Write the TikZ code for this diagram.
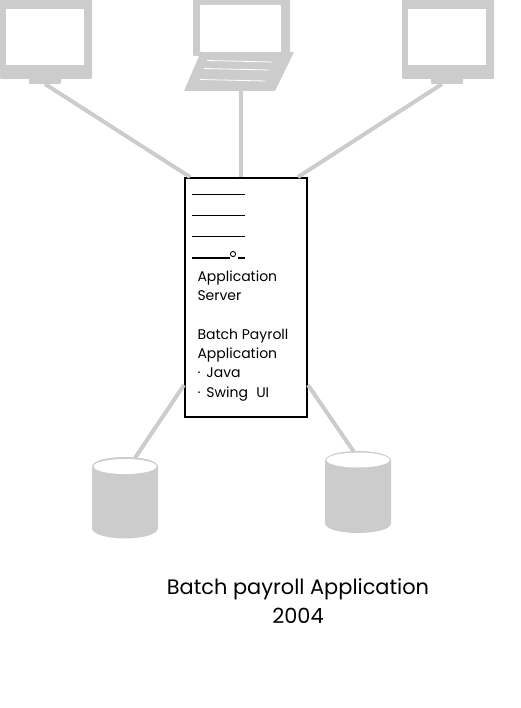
\documentclass[tikz,border=0pt]{standalone}
\usepackage{fontspec}
\setmainfont{Poppins}
\definecolor{sk}{HTML}{CCCCCC}
\tikzset{
  x=1pt,y=-1pt,
  solidbox/.style={fill=sk,draw=none,inner sep=0pt,outer sep=0pt,rounded corners=1pt},
  hole/.style={fill=white,draw=none,inner sep=0pt,outer sep=0pt},
  link/.style={draw=sk,line width=4pt},
  rule/.style={draw=black,line width=1.2pt},
  keyline/.style={draw=white,line width=.8pt},
  serverbox/.style={draw=black,line width=2pt,fill=white,inner sep=0pt,outer sep=0pt,minimum width=122pt,minimum height=239pt},
  servertext/.style={inner sep=0pt,outer sep=0pt,anchor=base west,align=left,font=\fontsize{14}{19.3}\selectfont},
  caption/.style={inner sep=0pt,outer sep=0pt,align=center,font=\fontsize{20.9}{29}\selectfont}
}
\begin{document}
\begin{tikzpicture}
\useasboundingbox (0,0) rectangle (520,708);
% left monitor
\node[solidbox,minimum width=32pt,minimum height=8pt] (stand1) at (45,80) {};
\node[solidbox,minimum width=92pt,minimum height=82pt] (mon1) at (46,38) {};
\node[hole,minimum width=78pt,minimum height=56pt] (scr1) at (45,37) {};
% right monitor
\node[solidbox,minimum width=32pt,minimum height=8pt] (stand2) at (447,80) {};
\node[solidbox,minimum width=92pt,minimum height=82pt] (mon2) at (448,38) {};
\node[hole,minimum width=78pt,minimum height=56pt] (scr2) at (447,37) {};
% laptop
\node[solidbox,minimum width=97pt,minimum height=60pt] (lap) at (241.5,26) {};
\node[hole,rounded corners=1pt,minimum width=81pt,minimum height=47pt] (lapscr) at (240.5,28.5) {};
\fill[sk] (199,56) -- (294,52) -- (275,91) -- (184,91) -- cycle;
\coordinate (lapbase) at (241,91);
\draw[keyline] (207,60.5) -- (272,62);
\draw[keyline] (204,68.5) -- (269,70);
\draw[keyline] (200,79.5) -- (265,81);
% databases
\fill[sk] (92,467) .. controls (92,460) and (110,457) .. (125,457)
  .. controls (140,457) and (158,460) .. (158,467) -- (158,528)
  .. controls (158,535) and (140,538.5) .. (125,538.5)
  .. controls (110,538.5) and (92,535) .. (92,528) -- cycle;
\fill[white] (125,466.5) ellipse [x radius=31.5,y radius=7.5];
\coordinate (db1top) at (135,458);
\fill[sk] (325,461) .. controls (325,454) and (343,451) .. (358,451)
  .. controls (373,451) and (391,454) .. (391,461) -- (391,523)
  .. controls (391,530) and (373,533) .. (358,533)
  .. controls (343,533) and (325,530) .. (325,523) -- cycle;
\fill[white] (358,460) ellipse [x radius=31.5,y radius=7.5];
\coordinate (db2top) at (354,452);
% server
\node[serverbox] (server) at (246,297.5) {};
\coordinate (sa) at (190,177);
\coordinate (sb) at (241,177);
\coordinate (sc) at (298,177);
\coordinate (sd) at (184,385);
\coordinate (se) at (308,385);
\coordinate (m1) at (45,84);
\coordinate (m2) at (442,84);
% connectors
\draw[link] (m1) -- (sa);
\draw[link] (lapbase) -- (sb);
\draw[link] (m2) -- (sc);
\draw[link] (sd) -- (db1top);
\draw[link] (se) -- (db2top);
% server form
\draw[rule] (192,194.5) -- (245,194.5);
\draw[rule] (192,215.5) -- (245,215.5);
\draw[rule] (192,236.5) -- (245,236.5);
\draw[rule] (192,258) -- (230,258);
\draw[draw=black,line width=.9pt] (233,254) circle [radius=2.6];
\draw[rule] (238,258) -- (245,258);
\node[servertext] (t1) at (197.5,397) {Application\\Server\\[19.3pt]Batch Payroll\\Application\\·\hspace{6pt}Java\\·\hspace{6pt}Swing\hspace{4.5pt} UI};
\node[caption] (cap) at (298,601) {Batch payroll Application\\2004};
\end{tikzpicture}
\end{document}
